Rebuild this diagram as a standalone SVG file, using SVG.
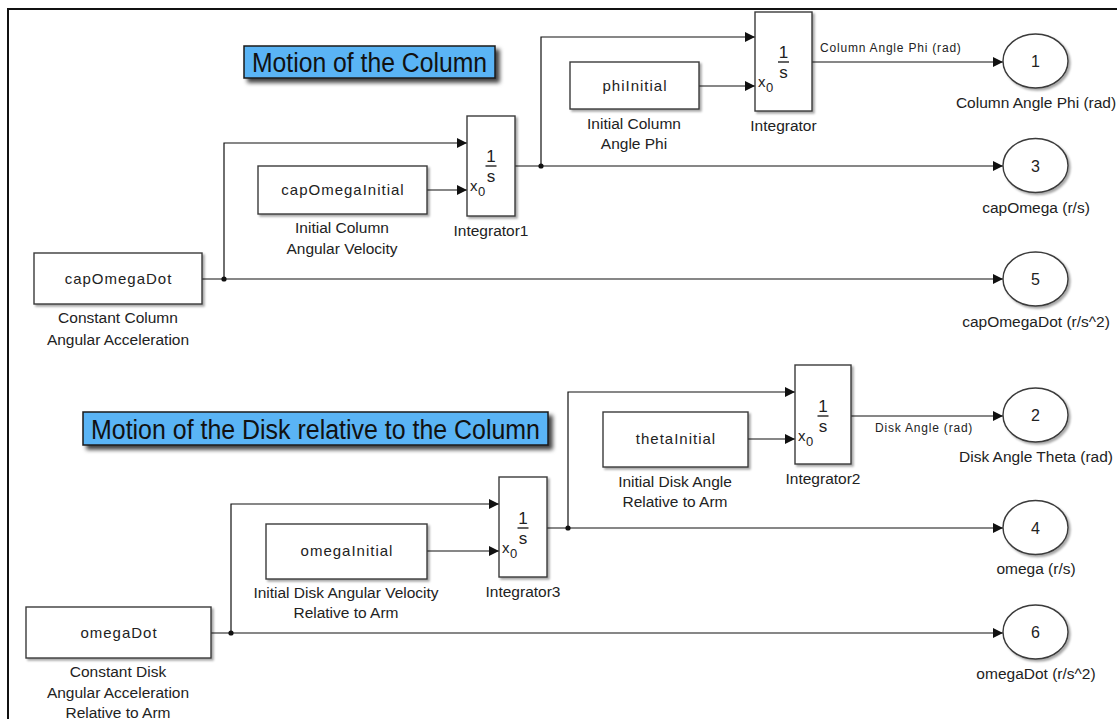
<svg xmlns="http://www.w3.org/2000/svg" width="1117" height="719" viewBox="0 0 1117 719">
  <style>
    .blk { fill: #ffffff; stroke: #3a3a3a; stroke-width: 1.4; filter: url(#blkShadow); }
    .port { fill: #ffffff; stroke: #3a3a3a; stroke-width: 1.4; filter: url(#blkShadow); }
    .title { fill: #5ab4f5; stroke: #1a1a1a; stroke-width: 1.5; filter: url(#titleShadow); }
    .wire { fill: none; stroke: #111111; stroke-width: 1.2; }
    .arrow { marker-end: url(#arrowHead); }
    .lbl { font-family: "Liberation Sans", Arial, sans-serif; font-size: 15.5px; fill: #222222; text-anchor: middle; }
    .btxt { font-family: "Liberation Sans", Arial, sans-serif; font-size: 15px; letter-spacing: 1px; fill: #222222; text-anchor: middle; }
    .sig { font-family: "Liberation Sans", Arial, sans-serif; font-size: 12px; letter-spacing: 0.8px; fill: #222222; }
    .ttl { font-family: "Liberation Sans", Arial, sans-serif; font-size: 27px; fill: #111111; text-anchor: middle; }
    .frac { font-family: "Liberation Sans", Arial, sans-serif; font-size: 17px; fill: #222222; text-anchor: middle; }
    .xo { font-family: "Liberation Sans", Arial, sans-serif; font-size: 15px; fill: #222222; }
    .sub { font-family: "Liberation Sans", Arial, sans-serif; font-size: 13px; fill: #222222; }
    .num { font-family: "Liberation Sans", Arial, sans-serif; font-size: 16px; fill: #222222; text-anchor: middle; }
    .bar { stroke: #222222; stroke-width: 1.4; }
  </style>
  <defs>
    <marker id="arrowHead" markerUnits="userSpaceOnUse" markerWidth="11" markerHeight="10" refX="10" refY="5" orient="auto">
      <path d="M0,0 L10,5 L0,10 z" fill="#111111"/>
    </marker>
    <filter id="blkShadow" x="-10%" y="-10%" width="130%" height="130%">
      <feDropShadow dx="2" dy="2" stdDeviation="1" flood-color="#000000" flood-opacity="0.35"/>
    </filter>
    <filter id="titleShadow" x="-10%" y="-30%" width="125%" height="180%">
      <feDropShadow dx="4" dy="4" stdDeviation="2" flood-color="#000000" flood-opacity="0.75"/>
    </filter>
  </defs>

  <rect x="0" y="0" width="1117" height="719" fill="#ffffff"/>

  <!-- model canvas frame -->
  <path d="M8,719 V9 H1117" fill="none" stroke="#111111" stroke-width="2"/>

  <!-- annotation titles -->
  <g id="title-column">
    <rect class="title" x="244" y="46" width="251" height="32"/>
    <text class="ttl" x="369.5" y="71.5" textLength="235" lengthAdjust="spacingAndGlyphs">Motion of the Column</text>
  </g>
  <g id="title-disk">
    <rect class="title" x="83" y="412" width="465" height="33"/>
    <text class="ttl" x="315.5" y="438.5" textLength="449" lengthAdjust="spacingAndGlyphs">Motion of the Disk relative to the Column</text>
  </g>

  <!-- signal lines -->
  <g id="connectors">
    <!-- column section -->
    <path class="wire arrow" d="M202,279 H1003"/>
    <path class="wire arrow" d="M224,279 V143 H467"/>
    <path class="wire arrow" d="M427,190 H467"/>
    <path class="wire arrow" d="M515,166 H1003"/>
    <path class="wire arrow" d="M541,166 V37 H755"/>
    <path class="wire arrow" d="M699,86 H755"/>
    <path class="wire arrow" d="M812,62 H1003"/>
    <circle cx="224" cy="279" r="2.6" fill="#111111"/>
    <circle cx="541" cy="166" r="2.6" fill="#111111"/>
    <text class="sig" x="820" y="52">Column Angle Phi (rad)</text>
    <!-- disk section -->
    <path class="wire arrow" d="M211,633 H1003"/>
    <path class="wire arrow" d="M231,633 V504 H499"/>
    <path class="wire arrow" d="M427,551 H499"/>
    <path class="wire arrow" d="M547,528 H1003"/>
    <path class="wire arrow" d="M568,528 V392 H795"/>
    <path class="wire arrow" d="M748,439 H795"/>
    <path class="wire arrow" d="M851,416 H1003"/>
    <circle cx="231" cy="633" r="2.6" fill="#111111"/>
    <circle cx="568" cy="528" r="2.6" fill="#111111"/>
    <text class="sig" x="875" y="432">Disk Angle (rad)</text>
  </g>

  <!-- constant blocks -->
  <g id="capOmegaDot">
    <rect class="blk" x="34" y="253" width="168" height="51"/>
    <text class="btxt" x="118.5" y="284">capOmegaDot</text>
    <text class="lbl" x="118" y="323">Constant Column</text>
    <text class="lbl" x="118" y="345">Angular Acceleration</text>
  </g>
  <g id="capOmegaInitial">
    <rect class="blk" x="258" y="166" width="169" height="48"/>
    <text class="btxt" x="343" y="195">capOmegaInitial</text>
    <text class="lbl" x="342" y="233">Initial Column</text>
    <text class="lbl" x="342" y="254">Angular Velocity</text>
  </g>
  <g id="phiInitial">
    <rect class="blk" x="570" y="62" width="129" height="47"/>
    <text class="btxt" x="635" y="91">phiInitial</text>
    <text class="lbl" x="634" y="129">Initial Column</text>
    <text class="lbl" x="634" y="149">Angle Phi</text>
  </g>
  <g id="omegaDot">
    <rect class="blk" x="26" y="607" width="185" height="51"/>
    <text class="btxt" x="119" y="638">omegaDot</text>
    <text class="lbl" x="118" y="677">Constant Disk</text>
    <text class="lbl" x="118" y="698">Angular Acceleration</text>
    <text class="lbl" x="118" y="718">Relative to Arm</text>
  </g>
  <g id="omegaInitial">
    <rect class="blk" x="266" y="524" width="161" height="55"/>
    <text class="btxt" x="347" y="556">omegaInitial</text>
    <text class="lbl" x="346" y="598">Initial Disk Angular Velocity</text>
    <text class="lbl" x="346" y="618">Relative to Arm</text>
  </g>
  <g id="thetaInitial">
    <rect class="blk" x="603" y="412" width="145" height="55"/>
    <text class="btxt" x="676" y="444">thetaInitial</text>
    <text class="lbl" x="675" y="487">Initial Disk Angle</text>
    <text class="lbl" x="675" y="507">Relative to Arm</text>
  </g>

  <!-- integrators -->
  <g id="Integrator">
    <rect class="blk" x="755" y="12" width="57" height="99"/>
    <text class="frac" x="783.5" y="58">1</text>
    <line class="bar" x1="778" y1="62" x2="789" y2="62"/>
    <text class="frac" x="783.5" y="78">s</text>
    <text class="xo" x="758" y="87">x</text>
    <text class="sub" x="766" y="92">0</text>
    <text class="lbl" x="783.5" y="131">Integrator</text>
  </g>
  <g id="Integrator1">
    <rect class="blk" x="467" y="116" width="48" height="100"/>
    <text class="frac" x="491" y="162">1</text>
    <line class="bar" x1="485.5" y1="166" x2="496.5" y2="166"/>
    <text class="frac" x="491" y="182">s</text>
    <text class="xo" x="470" y="191">x</text>
    <text class="sub" x="478" y="196">0</text>
    <text class="lbl" x="491" y="236">Integrator1</text>
  </g>
  <g id="Integrator2">
    <rect class="blk" x="795" y="365" width="56" height="99"/>
    <text class="frac" x="823" y="412">1</text>
    <line class="bar" x1="817.5" y1="416" x2="828.5" y2="416"/>
    <text class="frac" x="823" y="432">s</text>
    <text class="xo" x="798" y="441">x</text>
    <text class="sub" x="806" y="446">0</text>
    <text class="lbl" x="823" y="484">Integrator2</text>
  </g>
  <g id="Integrator3">
    <rect class="blk" x="499" y="477" width="48" height="100"/>
    <text class="frac" x="523" y="524">1</text>
    <line class="bar" x1="517.5" y1="528" x2="528.5" y2="528"/>
    <text class="frac" x="523" y="544">s</text>
    <text class="xo" x="502" y="553">x</text>
    <text class="sub" x="510" y="558">0</text>
    <text class="lbl" x="523" y="597">Integrator3</text>
  </g>

  <!-- outports -->
  <g id="out1">
    <ellipse class="port" cx="1035.5" cy="61" rx="32.5" ry="27"/>
    <text class="num" x="1035.5" y="67">1</text>
    <text class="lbl" x="1036" y="108">Column Angle Phi (rad)</text>
  </g>
  <g id="out3">
    <ellipse class="port" cx="1035.5" cy="165.5" rx="32.5" ry="27"/>
    <text class="num" x="1035.5" y="171.5">3</text>
    <text class="lbl" x="1036" y="213">capOmega (r/s)</text>
  </g>
  <g id="out5">
    <ellipse class="port" cx="1035.5" cy="279" rx="32.5" ry="27"/>
    <text class="num" x="1035.5" y="285">5</text>
    <text class="lbl" x="1036" y="327">capOmegaDot (r/s^2)</text>
  </g>
  <g id="out2">
    <ellipse class="port" cx="1035.5" cy="415" rx="32.5" ry="27"/>
    <text class="num" x="1035.5" y="421">2</text>
    <text class="lbl" x="1036" y="462">Disk Angle Theta (rad)</text>
  </g>
  <g id="out4">
    <ellipse class="port" cx="1035.5" cy="527.5" rx="32.5" ry="27"/>
    <text class="num" x="1035.5" y="533.5">4</text>
    <text class="lbl" x="1036" y="574">omega (r/s)</text>
  </g>
  <g id="out6">
    <ellipse class="port" cx="1035.5" cy="632" rx="32.5" ry="27"/>
    <text class="num" x="1035.5" y="638">6</text>
    <text class="lbl" x="1036" y="679">omegaDot (r/s^2)</text>
  </g>
</svg>
